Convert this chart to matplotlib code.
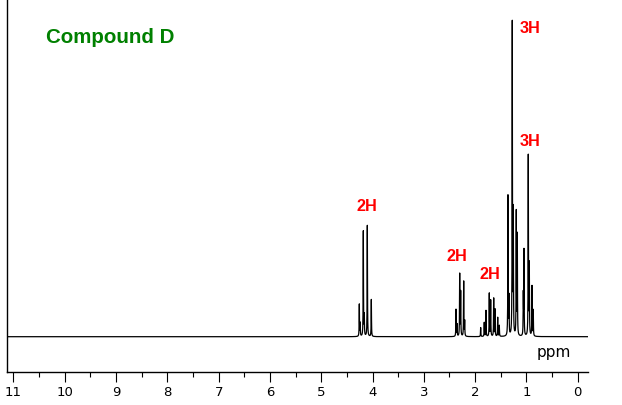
import numpy as np
import matplotlib
matplotlib.use("Agg")
import matplotlib.pyplot as plt
from matplotlib.ticker import MultipleLocator

# peak list: shift (ppm) and height (arbitrary units)
peak_ppm = [4.257, 4.240, 4.179, 4.160, 4.101, 4.023,
            2.372, 2.352, 2.300, 2.281, 2.222, 2.203,
            1.891, 1.821, 1.788, 1.723, 1.696, 1.637, 1.612, 1.559, 1.528,
            1.359, 1.339, 1.275, 1.255, 1.197, 1.177,
            1.060, 1.047, 0.963, 0.943, 0.891, 0.866]
peak_height = [32, 13, 105, 20, 111, 37,
               27, 12, 62, 44, 55, 15,
               9, 14, 26, 43, 36, 38, 27, 19, 11,
               140, 38, 312, 122, 123, 100,
               40, 85, 180, 70, 50, 26]

# integration labels
label_text = ["2H", "2H", "2H", "3H", "3H"]
label_ppm = [4.106, 2.358, 1.711, 0.935, 0.923]
label_y = [125.7, 76, 57.4, 304, 190.7]

ppm_ticks = list(range(0, 12))

# spectrum as a sum of narrow lorentzians
x = np.arange(-0.25, 11.2, 0.001)
y = np.zeros_like(x)
gamma = 0.0035
for p, h in zip(peak_ppm, peak_height):
    y += h / (1 + ((x - p) / gamma) ** 2)

fig = plt.figure(figsize=(6.22, 4.05), dpi=100)
ax = fig.add_axes([7.3 / 622, 33 / 405, 581 / 622, 372 / 405])

ax.plot(x, y, color="black", linewidth=0.9)
ax.set_xlim(11.12, -0.207)
ax.set_ylim(-35.3, 336.7)

for sp in ["top", "right"]:
    ax.spines[sp].set_visible(False)
ax.spines["left"].set_linewidth(1.0)
ax.spines["bottom"].set_linewidth(1.0)

ax.set_xticks(ppm_ticks)
ax.xaxis.set_minor_locator(MultipleLocator(0.5))
ax.tick_params(axis="x", which="major", direction="out", length=7.2, width=0.8,
               labelsize=9.5, pad=3, colors="black")
ax.tick_params(axis="x", which="minor", direction="out", length=3.6, width=0.8)
ax.set_yticks([])

ax.text(0.468, -20.6, "ppm", ha="center", va="baseline", fontsize=11,
        family="DejaVu Sans")

for t, px, py in zip(label_text, label_ppm, label_y):
    ax.text(px, py, t, color="#FF0000", ha="center", va="baseline",
            fontsize=11.7, fontweight="bold", family="Liberation Sans")

fig.text(45.7 / 622, 1 - 42.7 / 405, "Compound D", color="#008000",
         ha="left", va="baseline", fontsize=14.8, fontweight="bold",
         family="Liberation Sans")

fig.savefig("out.png", dpi=100)
